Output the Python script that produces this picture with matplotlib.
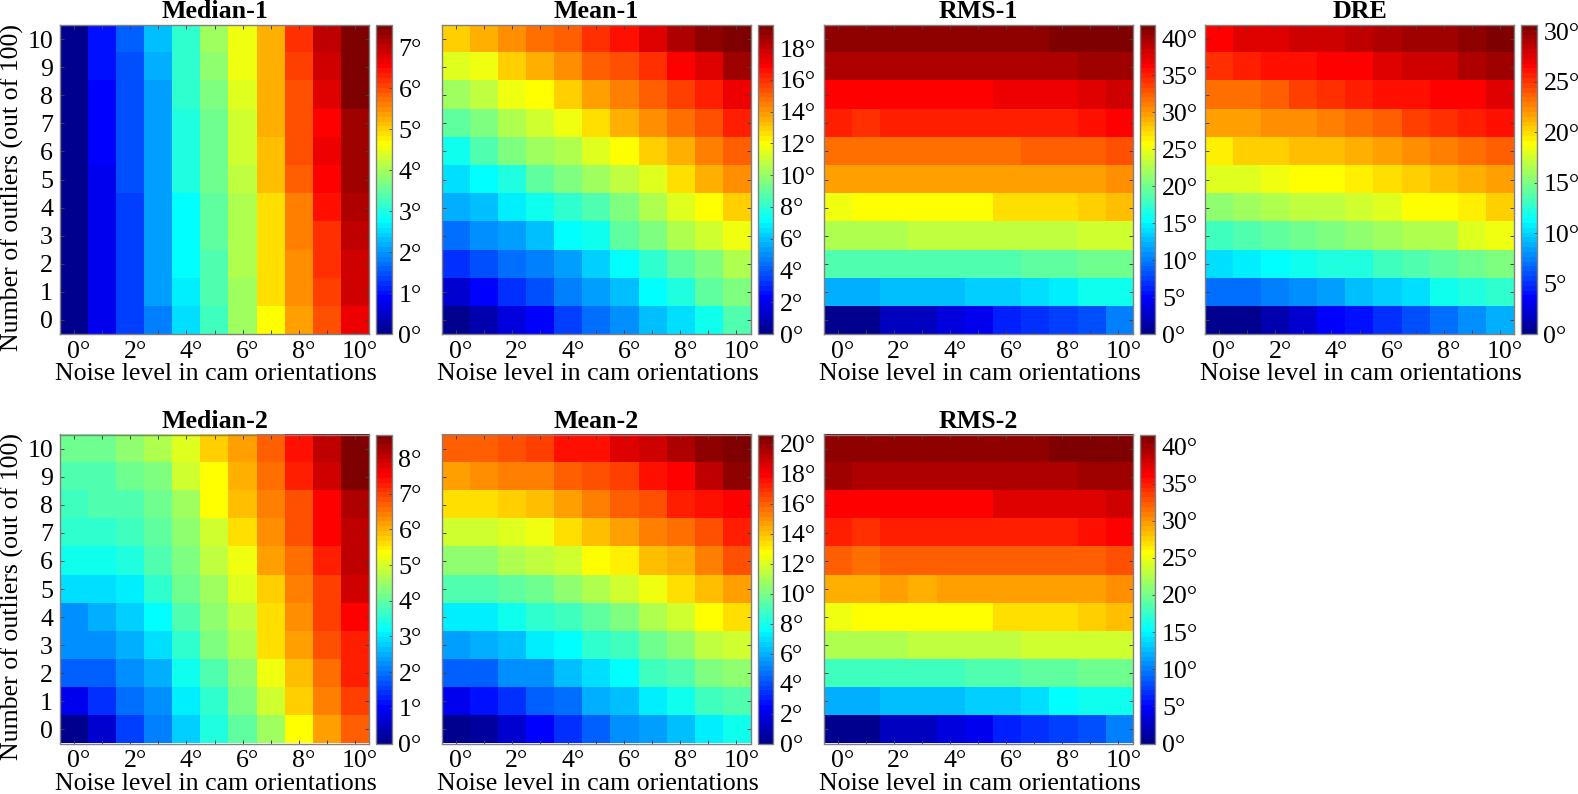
import matplotlib
matplotlib.use("Agg")
import matplotlib.pyplot as plt
from matplotlib.colors import ListedColormap
import matplotlib.transforms as mtrans
import numpy as np

plt.rcParams['font.family'] = ['Liberation Serif', 'DejaVu Serif']

median_1 = [
    [0.05, 0.95, 1.55, 2.35, 3.15, 3.95, 4.55, 5.30, 6.15, 7.00, 7.55],
    [0.05, 0.95, 1.45, 2.15, 3.10, 3.80, 4.55, 5.30, 6.05, 6.85, 7.55],
    [0.05, 0.90, 1.45, 2.10, 3.10, 3.75, 4.40, 5.25, 5.95, 6.75, 7.45],
    [0.05, 0.90, 1.45, 2.10, 3.00, 3.60, 4.35, 5.20, 5.95, 6.60, 7.30],
    [0.05, 0.90, 1.45, 2.10, 2.95, 3.55, 4.25, 5.10, 5.90, 6.65, 7.25],
    [0.05, 0.80, 1.45, 2.05, 2.95, 3.55, 4.20, 5.10, 5.80, 6.50, 7.20],
    [0.05, 0.80, 1.30, 2.05, 2.83, 3.45, 4.10, 4.95, 5.65, 6.40, 7.10],
    [0.05, 0.80, 1.30, 2.05, 2.80, 3.45, 4.10, 4.85, 5.60, 6.25, 7.05],
    [0.05, 0.80, 1.30, 2.05, 2.75, 3.40, 4.05, 4.85, 5.50, 6.20, 6.95],
    [0.05, 0.80, 1.30, 2.05, 2.65, 3.35, 4.00, 4.85, 5.45, 6.10, 6.85],
    [0.00, 0.80, 1.30, 1.85, 2.55, 3.25, 3.95, 4.70, 5.35, 5.90, 6.70],
]
mean_1 = [
    [12.8, 13.4, 14.0, 14.6, 15.2, 16.1, 16.7, 17.5, 18.4, 18.9, 19.46],
    [11.3, 11.8, 13.0, 13.6, 14.0, 14.9, 15.5, 16.1, 17.0, 17.6, 18.7],
    [10.1, 10.7, 11.6, 12.16, 13.0, 13.8, 14.3, 14.9, 15.8, 16.4, 17.3],
    [8.9, 9.5, 10.4, 11.0, 11.6, 12.6, 13.4, 14.0, 14.6, 15.5, 16.4],
    [7.6, 8.6, 9.5, 10.1, 10.6, 11.3, 11.9, 13.0, 13.6, 14.4, 15.2],
    [6.6, 7.1, 7.9, 8.9, 9.5, 10.1, 10.7, 11.4, 12.6, 13.4, 14.2],
    [5.6, 6.0, 6.7, 7.3, 8.2, 8.8, 9.7, 10.4, 11.3, 11.9, 13.0],
    [4.4, 4.9, 5.4, 5.9, 7.0, 7.6, 8.9, 9.5, 10.4, 11.0, 11.6],
    [3.1, 3.7, 4.4, 4.8, 5.4, 6.2, 7.2, 8.2, 9.1, 9.7, 10.4],
    [1.5, 2.2, 3.1, 3.7, 4.6, 5.2, 5.9, 7.1, 7.9, 8.9, 9.5],
    [0.0, 0.8, 1.8, 2.4, 3.4, 4.3, 4.9, 6.0, 6.6, 7.3, 8.6],
]
rms_1 = [
    [40.9, 40.9, 40.9, 40.9, 40.9, 40.9, 40.9, 40.9, 41.8, 41.8, 41.8],
    [39.8, 39.2, 39.6, 39.2, 39.5, 39.5, 39.5, 39.5, 39.5, 40.2, 40.2],
    [36.3, 36.3, 36.3, 36.3, 36.3, 36.3, 37.2, 37.2, 37.2, 37.3, 37.9],
    [34.9, 34.6, 35.0, 35.0, 35.0, 35.0, 35.0, 35.0, 35.0, 35.6, 36.0],
    [32.0, 31.8, 32.0, 32.0, 32.0, 32.0, 32.0, 32.5, 32.5, 32.5, 33.1],
    [29.7, 29.4, 29.7, 29.4, 29.7, 29.7, 29.7, 29.7, 30.0, 30.0, 30.6],
    [25.2, 26.1, 26.1, 26.1, 26.1, 26.1, 26.9, 26.9, 26.9, 27.5, 28.1],
    [22.6, 22.6, 22.6, 22.9, 22.9, 22.9, 22.9, 23.4, 23.4, 23.7, 24.0],
    [18.3, 18.3, 18.3, 18.3, 18.3, 18.8, 18.8, 19.3, 19.3, 19.6, 20.0],
    [11.8, 11.8, 12.8, 12.8, 12.8, 13.4, 13.4, 14.3, 15.0, 15.7, 16.2],
    [0.0, 0.3, 2.1, 2.1, 3.8, 4.4, 6.0, 6.7, 7.6, 8.3, 10.0],
]
dre = [
    [26.5, 27.4, 27.4, 27.8, 28.2, 28.6, 29.0, 29.4, 29.4, 30.0, 30.6],
    [24.9, 25.4, 25.9, 25.9, 26.3, 26.5, 27.4, 27.8, 28.2, 28.8, 29.4],
    [23.4, 23.4, 23.9, 24.4, 24.9, 25.4, 25.9, 26.2, 26.5, 26.5, 27.4],
    [21.6, 21.6, 22.4, 22.4, 22.9, 23.4, 23.9, 24.4, 24.9, 25.4, 25.9],
    [19.6, 20.3, 20.3, 20.9, 20.9, 21.4, 21.9, 22.4, 22.9, 23.4, 23.9],
    [17.9, 18.1, 18.6, 18.8, 19.1, 19.6, 20.0, 20.5, 20.9, 21.4, 21.9],
    [15.3, 16.0, 16.4, 16.9, 17.2, 17.4, 18.0, 18.8, 19.1, 19.6, 20.3],
    [13.2, 13.7, 14.2, 14.7, 15.1, 15.6, 16.0, 16.5, 16.7, 17.9, 18.2],
    [10.3, 10.8, 11.3, 11.5, 12.0, 12.4, 13.2, 13.7, 14.2, 14.7, 15.1],
    [6.7, 7.0, 7.4, 7.65, 8.6, 9.1, 9.6, 10.3, 11.5, 12.0, 12.9],
    [0.0, 0.4, 1.3, 2.2, 3.4, 4.2, 5.1, 6.1, 6.7, 7.65, 8.9],
]
median_2 = [
    [4.06, 4.06, 4.40, 4.68, 5.09, 5.74, 6.22, 6.69, 7.31, 8.11, 8.66],
    [3.92, 3.92, 4.13, 4.30, 4.95, 5.41, 6.02, 6.62, 7.20, 7.92, 8.53],
    [3.73, 3.85, 3.92, 4.06, 4.60, 5.30, 5.87, 6.43, 6.90, 7.50, 8.25],
    [3.52, 3.58, 3.73, 4.00, 4.40, 4.95, 5.67, 6.35, 6.83, 7.45, 8.11],
    [3.30, 3.30, 3.45, 3.80, 4.20, 4.80, 5.20, 6.10, 6.62, 7.20, 8.05],
    [2.85, 2.97, 3.10, 3.58, 4.06, 4.55, 5.09, 5.74, 6.43, 7.03, 7.85],
    [2.30, 2.45, 2.80, 3.20, 3.80, 4.33, 4.87, 5.67, 6.30, 6.97, 7.50],
    [2.17, 2.20, 2.50, 2.85, 3.52, 4.20, 4.68, 5.55, 6.10, 6.83, 7.30],
    [1.76, 1.83, 2.20, 2.55, 3.25, 3.85, 4.45, 5.17, 5.95, 6.62, 7.20],
    [0.87, 1.42, 1.90, 2.30, 3.00, 3.65, 4.30, 4.95, 5.74, 6.43, 7.00],
    [0.00, 0.60, 1.50, 2.10, 2.80, 3.50, 4.00, 4.60, 5.41, 6.10, 6.75],
]
mean_2 = [
    [16.0, 16.0, 16.4, 16.6, 17.4, 17.7, 18.6, 18.8, 19.6, 20.1, 20.6],
    [14.6, 15.0, 15.3, 15.3, 15.9, 16.4, 16.7, 17.4, 18.0, 19.0, 20.0],
    [13.2, 13.2, 13.7, 14.0, 14.6, 15.2, 15.8, 16.1, 17.1, 17.7, 18.0],
    [11.8, 11.8, 12.1, 12.4, 13.2, 14.0, 14.6, 15.2, 15.5, 16.4, 17.1],
    [10.5, 10.5, 11.1, 11.4, 11.9, 12.6, 12.9, 14.0, 14.4, 15.2, 16.1],
    [9.2, 9.2, 9.5, 9.8, 10.6, 11.1, 11.8, 12.3, 13.4, 14.0, 14.8],
    [7.4, 7.4, 8.0, 8.4, 9.0, 9.5, 10.0, 11.1, 11.8, 12.6, 13.5],
    [5.6, 6.0, 6.4, 7.1, 7.7, 8.4, 9.0, 9.8, 10.6, 11.3, 11.8],
    [4.2, 4.5, 5.2, 5.3, 6.4, 6.9, 7.7, 8.7, 9.3, 10.0, 10.6],
    [2.2, 2.6, 3.5, 4.2, 4.8, 5.8, 6.3, 7.1, 8.0, 8.7, 9.3],
    [0.0, 0.6, 1.4, 2.3, 3.5, 4.2, 5.2, 5.6, 6.3, 7.4, 8.0],
]
rms_2 = [
    [40.9, 40.9, 40.9, 40.9, 40.9, 40.9, 40.9, 40.9, 41.6, 41.6, 41.6],
    [39.7, 39.1, 39.5, 39.1, 39.4, 39.4, 39.4, 39.4, 39.4, 40.1, 40.1],
    [36.2, 36.2, 36.2, 36.2, 36.2, 36.2, 37.1, 37.1, 37.1, 37.1, 37.8],
    [34.8, 34.4, 34.8, 34.8, 34.8, 34.8, 34.8, 34.8, 34.8, 35.5, 36.0],
    [31.9, 31.6, 31.9, 31.9, 31.9, 31.9, 31.9, 32.4, 32.4, 32.4, 33.0],
    [29.2, 29.2, 29.7, 29.0, 29.5, 29.5, 29.5, 29.5, 29.9, 29.9, 30.5],
    [25.0, 25.9, 25.9, 25.9, 25.9, 25.9, 26.7, 26.7, 26.7, 27.4, 28.0],
    [22.5, 22.5, 22.5, 22.8, 22.8, 22.8, 22.8, 23.4, 23.4, 23.7, 24.0],
    [18.2, 18.2, 18.2, 18.2, 18.2, 18.7, 18.7, 19.2, 19.2, 19.5, 20.0],
    [11.7, 11.7, 12.7, 12.7, 12.7, 13.4, 13.4, 14.2, 15.0, 15.6, 16.1],
    [0.0, 0.3, 2.1, 2.1, 3.8, 4.4, 6.0, 6.7, 7.6, 8.2, 10.0],
]

titles = ['Median-1', 'Mean-1', 'RMS-1', 'DRE', 'Median-2', 'Mean-2', 'RMS-2']
tables = [median_1, mean_1, rms_1, dre, median_2, mean_2, rms_2]
cbar_steps = [1, 2, 5, 5, 1, 2, 5]
noise_levels = list(range(11))
outlier_counts = list(range(11))

W, H = 1578, 794
EDGE = '#808080'
FONT = 18.6

# left edge of each heatmap and top edge of each row, in pixels
lefts = [60, 441.5, 823.5, 1205, 60, 441.5, 823.5]
tops = [25, 25, 25, 25, 434.5, 434.5, 434.5]
SIZE = 309


def matlab_jet(m=64):
    # same ramps as MATLAB's jet(64), matplotlib's jet has other breakpoints
    n = m // 4
    ramp = np.concatenate([np.arange(1, n + 1) / n, np.ones(n - 1), np.arange(n, 0, -1) / n])
    idx = n // 2 + np.arange(len(ramp))
    rgb = np.zeros((m, 3))
    for chan, off in enumerate([n, 0, -n]):
        keep = (idx + off >= 0) & (idx + off < m)
        rgb[idx[keep] + off, chan] = ramp[keep]
    return ListedColormap(rgb)


def px_axes(fig, x, y, w, h):
    return fig.add_axes([x / W, 1 - (y + h) / H, w / W, h / H])


fig = plt.figure(figsize=(W / 100, H / 100), dpi=100)
cmap = matlab_jet()
shift = mtrans.ScaledTranslation(5 / 100, 0, fig.dpi_scale_trans)

for i in range(7):
    data = np.array(tables[i])[::-1]
    ax = px_axes(fig, lefts[i], tops[i], SIZE, SIZE)
    im = ax.imshow(data, origin='lower', cmap=cmap, aspect='auto',
                   interpolation='nearest', vmin=data.min(), vmax=data.max())
    ax.set_title(titles[i], fontsize=FONT, fontweight='bold', pad=5)

    ax.set_xticks(noise_levels)
    ax.set_xticklabels([f'{n}°' if n % 2 == 0 else '' for n in noise_levels])
    ax.set_yticks(outlier_counts)
    ax.tick_params(direction='in', top=True, right=True, length=3, width=0.7,
                   color='#404040', labelsize=FONT, pad=5)
    ax.tick_params(axis='x', pad=5)
    for lab in ax.get_xticklabels():
        lab.set_transform(lab.get_transform() + shift)
    ax.set_xlabel('Noise level in cam orientations', fontsize=FONT)
    ax.xaxis.set_label_coords(0.5 + 1.5 / SIZE, -29 / SIZE, transform=ax.transAxes)
    ax.xaxis.label.set_va('top')

    if lefts[i] == 60:
        ax.set_ylabel('Number of outliers (out of 100)', fontsize=FONT)
        ax.yaxis.set_label_coords(-36 / SIZE, 0.475)
    else:
        ax.set_yticklabels([])
    for s in ax.spines.values():
        s.set_color(EDGE)
        s.set_linewidth(1)

    cax = px_axes(fig, lefts[i] + SIZE + 7, tops[i], 15.5, SIZE)
    cb = fig.colorbar(im, cax=cax)
    ticks = np.arange(0, data.max() + 0.01, cbar_steps[i])
    cb.set_ticks(ticks)
    cb.set_ticklabels([f'{int(t)}°' for t in ticks])
    cb.ax.tick_params(direction='in', length=2, width=0.6, color='#404040',
                      labelsize=FONT, pad=5)
    cb.outline.set_edgecolor(EDGE)
    cb.outline.set_linewidth(1)

fig.savefig('out.png', dpi=100)
